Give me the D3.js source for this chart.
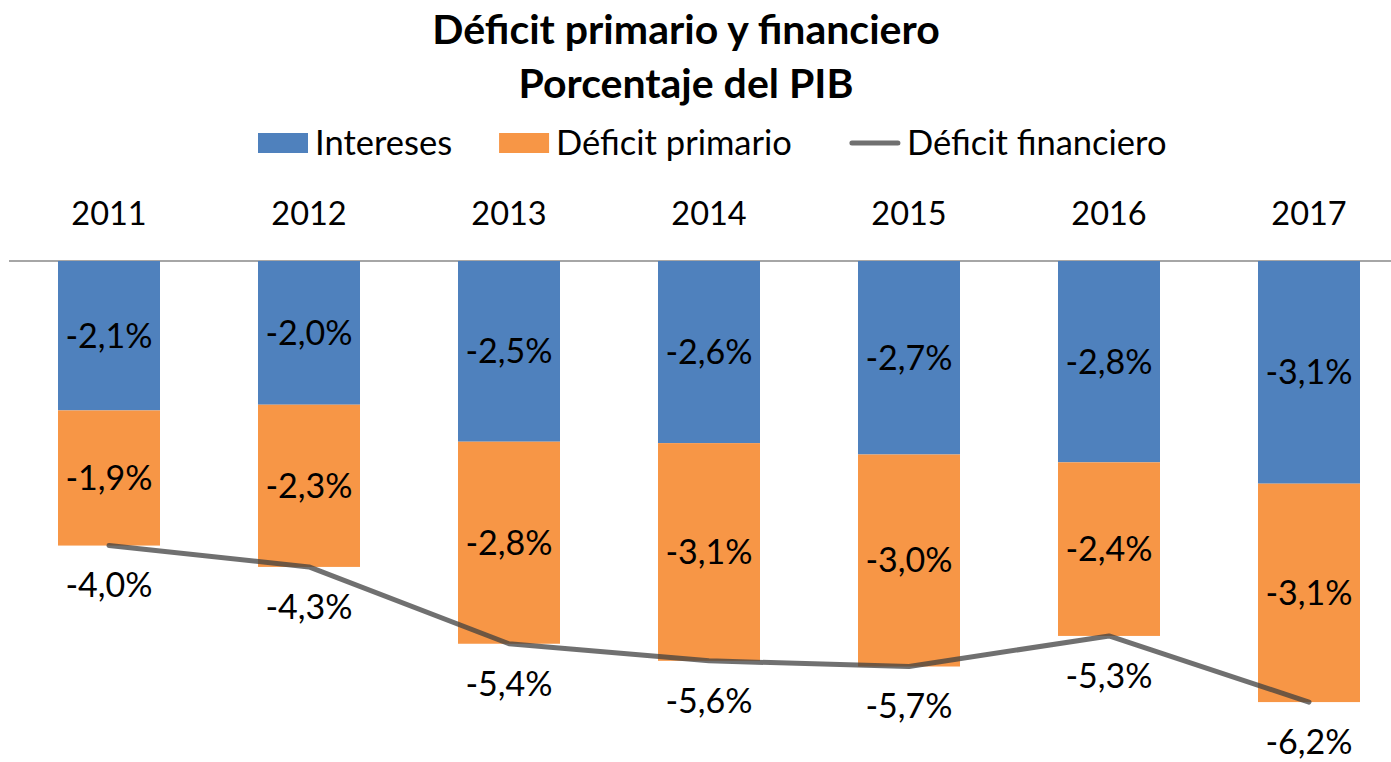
<!DOCTYPE html>
<html><head><meta charset="utf-8">
<script src="https://cdn.jsdelivr.net/npm/d3@7"></script>
<style>body{margin:0;background:#fff;} svg{display:block;} text{font-family:Lato, "Open Sans", sans-serif;}</style>
</head><body>
<svg id="chart" width="1391" height="762"></svg>
<script>
const years = ["2011","2012","2013","2014","2015","2016","2017"];
const intereses = [-2.1, -2.02, -2.54, -2.56, -2.72, -2.83, -3.13];
const primario = [-1.9, -2.28, -2.84, -3.06, -2.98, -2.44, -3.07];
const financiero = [-4.0, -4.3, -5.38, -5.62, -5.70, -5.27, -6.2];
const interesesLabels = ["-2,1%","-2,0%","-2,5%","-2,6%","-2,7%","-2,8%","-3,1%"];
const primarioLabels = ["-1,9%","-2,3%","-2,8%","-3,1%","-3,0%","-2,4%","-3,1%"];
const financieroLabels = ["-4,0%","-4,3%","-5,4%","-5,6%","-5,7%","-5,3%","-6,2%"];
const seriesNames = ["Intereses","Déficit primario","Déficit financiero"];
const colors = ["#4F81BD","#F79646","#404040"];

const svg = d3.select("#chart");
const x = d3.scaleBand().domain(years).range([9, 1409]).paddingInner(0.49).paddingOuter(0.245);
const y = d3.scaleLinear().domain([-7, 0]).range([759, 261]);

// title
svg.append("text").attr("x", 686).attr("y", 44).attr("text-anchor","middle")
  .style("font-weight","bold").style("font-size","41px").text("Déficit primario y financiero");
svg.append("text").attr("x", 686).attr("y", 98).attr("text-anchor","middle")
  .style("font-weight","bold").style("font-size","41px").text("Porcentaje del PIB");

// legend
const leg = svg.append("g");
let lx = 258;
seriesNames.forEach((n,i)=>{
  if(i<2){
    leg.append("rect").attr("x",lx).attr("y",133).attr("width",50).attr("height",20).attr("fill",colors[i]);
  } else {
    leg.append("line").attr("x1",lx+2).attr("x2",lx+48).attr("y1",143).attr("y2",143)
      .attr("stroke",colors[i]).attr("stroke-opacity",0.75).attr("stroke-width",5).attr("stroke-linecap","round");
  }
  const t = leg.append("text").attr("x",lx+57).attr("y",155).style("font-size","34.5px").text(n);
  const w = t.node().getComputedTextLength();
  lx = lx + 57 + w + (i===0?47:58);
});

// x axis at top (labels) and zero line
const xAxis = d3.axisTop(x).tickSize(0).tickPadding(0);
const gx = svg.append("g").attr("transform","translate(0,225)").call(xAxis);
gx.select(".domain").remove();
gx.selectAll("text").style("font-size","32.5px").style("font-family","Lato, sans-serif").attr("fill","#000");

svg.append("line").attr("x1",9).attr("x2",1391).attr("y1",y(0)).attr("y2",y(0))
  .attr("stroke","#A6A6A6").attr("stroke-width",2);

// bars
const g = svg.append("g");
g.selectAll(".bi").data(years).join("rect").attr("class","bi")
  .attr("x",d=>x(d)).attr("width",x.bandwidth())
  .attr("y",(d,i)=>y(0)).attr("height",(d,i)=>y(intereses[i])-y(0)).attr("fill",colors[0]);
g.selectAll(".bp").data(years).join("rect").attr("class","bp")
  .attr("x",d=>x(d)).attr("width",x.bandwidth())
  .attr("y",(d,i)=>y(intereses[i])).attr("height",(d,i)=>y(intereses[i]+primario[i])-y(intereses[i])).attr("fill",colors[1]);

// line
const line = d3.line().x((d,i)=>x(years[i])+x.bandwidth()/2).y(d=>y(d));
svg.append("path").datum(financiero).attr("d",line).attr("fill","none")
  .attr("stroke",colors[2]).attr("stroke-opacity",0.75).attr("stroke-width",5)
  .attr("stroke-linecap","round").attr("stroke-linejoin","round");

// labels
const cx = d=>x(d)+x.bandwidth()/2;
const fs = "34px";
svg.selectAll(".li").data(years).join("text").attr("class","li")
  .attr("x",cx).attr("y",(d,i)=>(y(0)+y(intereses[i]))/2).attr("dy","0.35em")
  .attr("text-anchor","middle").style("font-size",fs).text((d,i)=>interesesLabels[i]);
svg.selectAll(".lp").data(years).join("text").attr("class","lp")
  .attr("x",cx).attr("y",(d,i)=>(y(intereses[i])+y(intereses[i]+primario[i]))/2).attr("dy","0.35em")
  .attr("text-anchor","middle").style("font-size",fs).text((d,i)=>primarioLabels[i]);
svg.selectAll(".lf").data(years).join("text").attr("class","lf")
  .attr("x",cx).attr("y",(d,i)=>y(financiero[i])+40).attr("dy","0.35em")
  .attr("text-anchor","middle").style("font-size",fs).text((d,i)=>financieroLabels[i]);
</script>
</body></html>
